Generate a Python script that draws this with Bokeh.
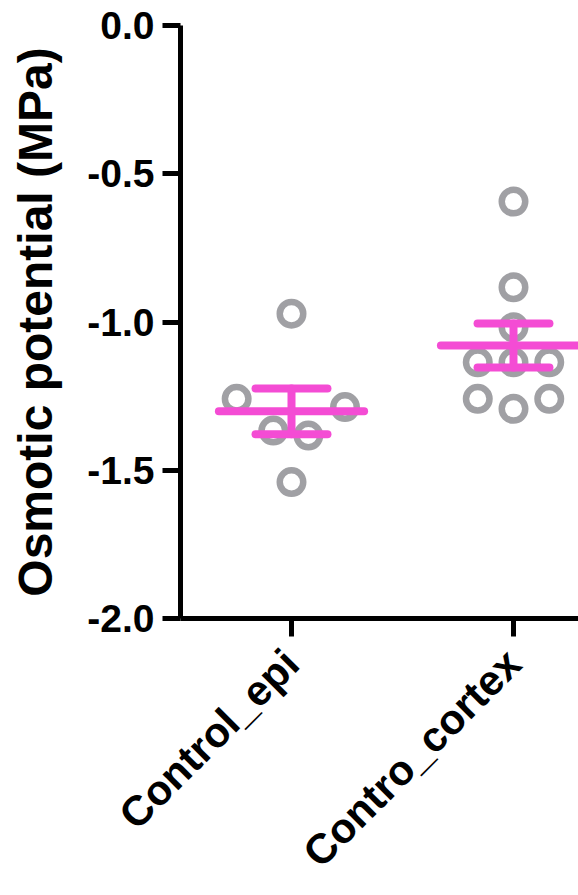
import math
import numpy as np
from bokeh.plotting import figure
from bokeh.layouts import column
from bokeh.models import FixedTicker, ColumnDataSource, Range1d
from bokeh.embed import file_html
from bokeh.resources import INLINE

# ---- data ----
categories = ["Control_epi", "Contro_cortex"]
epi_values = [-0.972, -1.259, -1.366, -1.383, -1.287, -1.540]
epi_jitter = [0.0, -0.247, -0.082, 0.076, 0.241, 0.0]
cortex_values = [-0.594, -0.883, -1.018, -1.136, -1.136, -1.136, -1.259, -1.293, -1.259]
cortex_jitter = [0.0, 0.0, 0.0, -0.161, 0.0, 0.161, -0.161, 0.0, 0.161]
y_ticks = [0.0, -0.5, -1.0, -1.5, -2.0]
y_label = "Osmotic potential (MPa)"

FONT = "Liberation Sans"
PINK = "#F44CD4"
GREY = "#A0A0A4"

W = 578
H_MAIN, H_LAB = 643, 252
LEFT, TOP, BOTTOM = 180, 25, 25
PX = 222.0  # pixels per category step

xr = Range1d(-0.5, -0.5 + (W - LEFT) / PX)
p = figure(width=W, height=H_MAIN, output_backend="svg", toolbar_location=None,
           x_range=xr, y_range=Range1d(-2.0, 0.0),
           min_border_left=LEFT, min_border_top=TOP, min_border_right=0,
           min_border_bottom=BOTTOM)
p.outline_line_color = None
p.xgrid.visible = False
p.ygrid.visible = False

groups = [(0, epi_values, epi_jitter), (1, cortex_values, cortex_jitter)]
for gx, vals, jit in groups:
    src = ColumnDataSource(dict(x=[gx + j for j in jit], y=vals))
    p.scatter("x", "y", source=src, size=23.5, marker="circle",
              fill_color=None, line_color=GREY, line_width=6.5)

for gx, vals, jit in groups:
    arr = np.array(vals)
    m = arr.mean()
    sem = arr.std(ddof=1) / math.sqrt(len(arr))
    p.segment(x0=[gx - 0.327], x1=[gx + 0.327], y0=[m], y1=[m],
              line_color=PINK, line_width=8, line_cap="round")
    p.segment(x0=[gx], x1=[gx], y0=[m - sem], y1=[m + sem],
              line_color=PINK, line_width=8, line_cap="round")
    p.segment(x0=[gx - 0.162, gx - 0.162], x1=[gx + 0.162, gx + 0.162],
              y0=[m - sem, m + sem], y1=[m - sem, m + sem],
              line_color=PINK, line_width=8, line_cap="round")

# y axis
ya = p.yaxis[0]
ya.ticker = FixedTicker(ticks=y_ticks)
ya.major_label_overrides = {t: f"{t:.1f}" for t in y_ticks}
ya.minor_tick_line_color = None
ya.axis_line_width = 5
ya.major_tick_line_width = 5
ya.major_tick_out = 18
ya.major_tick_in = 0
ya.major_label_standoff = 8
ya.major_label_text_font = FONT
ya.major_label_text_font_style = "bold"
ya.major_label_text_font_size = "39px"
ya.major_label_text_color = "black"
ya.axis_label = y_label
ya.axis_label_text_font = FONT
ya.axis_label_text_font_style = "bold"
ya.axis_label_text_font_size = "48px"
ya.axis_label_text_color = "black"
ya.axis_label_standoff = 22

# x axis of the data panel: line + ticks only
xa = p.xaxis[0]
xa.ticker = FixedTicker(ticks=[0, 1])
xa.major_label_overrides = {0: "", 1: ""}
xa.major_label_text_font_size = "1px"
xa.major_label_standoff = 0
xa.minor_tick_line_color = None
xa.axis_line_width = 5
xa.major_tick_line_width = 5
xa.major_tick_out = 18
xa.major_tick_in = 0

# strip below: an x axis sharing the same range carries the rotated category names
p2 = figure(width=W, height=H_LAB, output_backend="svg", toolbar_location=None,
            x_range=xr, y_range=Range1d(0, 1),
            min_border_left=0, min_border_right=0, min_border_top=0, min_border_bottom=0)
p2.outline_line_color = None
p2.xgrid.visible = False
p2.ygrid.visible = False
p2.yaxis.visible = False
xb = p2.xaxis[0]
xb.ticker = FixedTicker(ticks=[0, 1])
xb.major_label_overrides = {0: categories[0], 1: categories[1]}
xb.axis_line_color = None
xb.major_tick_line_color = None
xb.minor_tick_line_color = None
xb.major_tick_out = 0
xb.major_tick_in = 0
xb.major_label_standoff = 0
xb.major_label_orientation = math.pi / 4
xb.major_label_text_font = FONT
xb.major_label_text_font_style = "bold"
xb.major_label_text_font_size = "42px"
xb.major_label_text_color = "black"

layout = column(p, p2, spacing=0)
open("out.html", "w").write(file_html(layout, INLINE))
